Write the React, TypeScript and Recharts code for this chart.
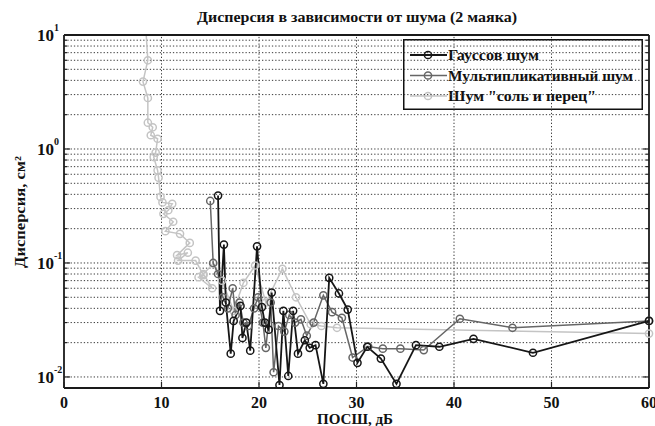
import React from 'react';
import { LineChart, Line, XAxis, YAxis, ReferenceLine } from 'recharts';

// ПОСШ, дБ / дисперсия, см^2
const gaussX = [15.8, 16.0, 16.4, 16.6, 17.1, 17.4, 18.1, 18.3, 18.7, 19.1, 19.8, 20.3, 20.6, 21.0, 21.3, 22.1, 22.5, 23.0, 23.5, 24.0, 24.7, 25.2, 25.8, 26.6, 27.2, 28.2, 29.1, 30.1, 31.1, 32.5, 34.1, 36.1, 38.5, 42.0, 48.1, 60];
const gaussY = [0.39, 0.038, 0.145, 0.045, 0.016, 0.031, 0.042, 0.022, 0.03, 0.017, 0.14, 0.041, 0.03, 0.026, 0.055, 0.0085, 0.038, 0.0102, 0.038, 0.016, 0.021, 0.018, 0.019, 0.0087, 0.074, 0.054, 0.039, 0.0133, 0.0184, 0.0145, 0.0087, 0.019, 0.0184, 0.0216, 0.0163, 0.031];

const multX = [15.0, 15.3, 15.8, 16.3, 16.8, 17.3, 17.6, 18.0, 18.4, 18.9, 19.5, 19.9, 20.4, 20.7, 21.2, 21.5, 22.0, 22.6, 23.1, 23.7, 24.3, 24.9, 25.6, 26.6, 27.5, 28.5, 29.6, 31.2, 32.7, 34.5, 36.9, 40.6, 46.0, 60];
const multY = [0.35, 0.1, 0.08, 0.05, 0.04, 0.06, 0.035, 0.045, 0.03, 0.028, 0.04, 0.05, 0.03, 0.018, 0.045, 0.011, 0.028, 0.025, 0.035, 0.03, 0.032, 0.023, 0.03, 0.052, 0.037, 0.033, 0.0148, 0.0185, 0.0177, 0.0177, 0.0172, 0.0324, 0.027, 0.031];

const saltX = [8.4, 8.6, 8.1, 8.6, 8.6, 9.1, 8.9, 9.6, 9.4, 9.2, 9.6, 9.7, 9.9, 10.1, 11.1, 10.7, 10.2, 11.2, 10.4, 11.9, 12.9, 11.6, 12.7, 11.7, 13.5, 14.3, 13.8, 15.2, 14.3, 15.3, 16.2, 17.4, 18.4, 19.6, 20.7, 22.4, 23.8, 25.3, 26.4, 28.0, 60];
const saltY = [11, 6.0, 3.9, 2.8, 1.7, 1.55, 1.32, 1.23, 0.93, 0.85, 0.65, 0.56, 0.38, 0.34, 0.33, 0.29, 0.27, 0.23, 0.19, 0.18, 0.15, 0.117, 0.123, 0.105, 0.105, 0.078, 0.075, 0.06, 0.08, 0.099, 0.07, 0.038, 0.067, 0.095, 0.045, 0.089, 0.05, 0.029, 0.028, 0.027, 0.024];

const xTicks = [0, 10, 20, 30, 40, 50, 60];
const xGrid = [10, 20, 30, 40, 50];
const mantissas = [1, 2, 3, 4, 5, 6, 7, 8, 9];
const yMinor = [0.01, 0.1, 1].flatMap(d => mantissas.map(m => +(m * d).toPrecision(3)));
const yTicks = [...yMinor, 10];

const toData = (xs: number[], ys: number[]) => xs.map((x, i) => ({ x, y: ys[i] }));
const gaussData = toData(gaussX, gaussY);
const multData = toData(multX, multY);
const saltData = toData(saltX, saltY);

const series = [
  { name: 'Гауссов шум', color: '#161616', width: 1.8, len: 91, data: gaussData },
  { name: 'Мультипликативный шум', color: '#666666', width: 1.5, len: 185, data: multData },
  { name: 'Шум "соль и перец"', color: '#c4c4c4', width: 1.5, len: 148, data: saltData },
];

const FONT = '"Liberation Serif", "DejaVu Serif", serif';
const GRID = '#3a3a3a';
const isDecade = (v: number) => Math.abs(Math.log10(v) - Math.round(Math.log10(v))) < 1e-6;

const LeftTick = (props: any) => {
  const { x, y, payload } = props;
  const v = payload.value;
  const major = isDecade(v);
  return (
    <g>
      <line x1={x} x2={x + (major ? 6 : 3)} y1={y} y2={y} stroke="#222" strokeWidth={1.2} />
      {major && (
        <text x={x - 10} y={y + 6} textAnchor="end" fontFamily={FONT} fontWeight="bold" fontSize={17} fill="#111">
          10
        </text>
      )}
      {major && (
        <text x={x - 10} y={y - 4} textAnchor="start" fontFamily={FONT} fontWeight="bold" fontSize={10} fill="#111">
          {Math.round(Math.log10(v))}
        </text>
      )}
    </g>
  );
};

const RightTick = (props: any) => {
  const { x, y, payload } = props;
  const major = isDecade(payload.value);
  return <line x1={x} x2={x - (major ? 6 : 3)} y1={y} y2={y} stroke="#222" strokeWidth={1.2} />;
};

const BottomTick = (props: any) => {
  const { x, y, payload } = props;
  return (
    <g>
      <line x1={x} x2={x} y1={y} y2={y - 6} stroke="#222" strokeWidth={1.2} />
      <text x={x} y={y + 20} textAnchor="middle" fontFamily={FONT} fontWeight="bold" fontSize={16} fill="#111">
        {payload.value}
      </text>
    </g>
  );
};

const TopTick = (props: any) => {
  const { x, y } = props;
  return <line x1={x} x2={x} y1={y} y2={y + 6} stroke="#222" strokeWidth={1.2} />;
};

const LegendBox = () => (
  <g transform="translate(403 39)">
    <rect x={0.75} y={0.75} width={238.5} height={69.5} fill="#fff" stroke="#111" strokeWidth={1.5} />
    {series.map((s, i) => {
      const cy = 16 + i * 20.5;
      return (
        <g key={s.name}>
          <line x1={7} x2={44} y1={cy} y2={cy} stroke={s.color} strokeWidth={s.width} />
          <circle cx={25} cy={cy} r={3.6} fill="none" stroke={s.color} strokeWidth={1.5} />
          <text x={45} y={cy + 5} fontFamily={FONT} fontWeight="bold" fontSize={14.5} fill="#111"
            textLength={s.len} lengthAdjust="spacingAndGlyphs">
            {s.name}
          </text>
        </g>
      );
    })}
  </g>
);

export default function App() {
  return (
    <div style={{ position: 'absolute', left: 0, top: 0, width: 655, height: 426, background: '#fff' }}>
      <LineChart width={655} height={426} margin={{ top: 34, right: 5, bottom: 8, left: 4 }}>
        <text x={357} y={22} textAnchor="middle" fontFamily={FONT} fontWeight="bold" fontSize={15} fill="#111"
          textLength={320} lengthAdjust="spacingAndGlyphs">
          Дисперсия в зависимости от шума (2 маяка)
        </text>
        <text x={355} y={424} textAnchor="middle" fontFamily={FONT} fontWeight="bold" fontSize={14} fill="#111"
          textLength={76} lengthAdjust="spacingAndGlyphs">
          ПОСШ, дБ
        </text>
        <text x={25} y={212} textAnchor="middle" fontFamily={FONT} fontWeight="bold" fontSize={15} fill="#111"
          transform="rotate(-90 25 212)" textLength={112} lengthAdjust="spacingAndGlyphs">
          Дисперсия, см²
        </text>
        <XAxis dataKey="x" type="number" domain={[0, 60]} ticks={xTicks} interval={0} height={30}
          tickSize={0} tickMargin={0} tick={<BottomTick />} axisLine={{ stroke: '#1a1a1a', strokeWidth: 1.8 }} tickLine={false} />
        <XAxis xAxisId="top" orientation="top" dataKey="x" type="number" domain={[0, 60]} ticks={xTicks} interval={0}
          height={1} tickSize={0} tickMargin={0} tick={<TopTick />} axisLine={{ stroke: '#1a1a1a', strokeWidth: 1.8 }} tickLine={false} />
        <YAxis type="number" scale="log" domain={[0.008, 10]} allowDataOverflow ticks={yTicks} interval={0} width={60}
          tickSize={0} tickMargin={0} tick={<LeftTick />} axisLine={{ stroke: '#1a1a1a', strokeWidth: 1.8 }} tickLine={false} />
        <YAxis yAxisId="right" orientation="right" type="number" scale="log" domain={[0.008, 10]} allowDataOverflow
          ticks={yTicks} interval={0} width={1} tickSize={0} tickMargin={0} tick={<RightTick />}
          axisLine={{ stroke: '#1a1a1a', strokeWidth: 1.8 }} tickLine={false} />
        {yMinor.map(v => (
          <ReferenceLine key={'h' + v} y={v} stroke={GRID} strokeWidth={1} strokeDasharray="1.3 2" />
        ))}
        {xGrid.map(v => (
          <ReferenceLine key={'v' + v} x={v} stroke={GRID} strokeWidth={1} strokeDasharray="1.3 2" />
        ))}
        {[...series].reverse().map(s => (
          <Line key={s.name} data={s.data} dataKey="y" name={s.name} type="linear" stroke={s.color}
            strokeWidth={s.width} isAnimationActive={false}
            dot={{ r: 3.6, fill: 'none', stroke: s.color, strokeWidth: 1.5 }} activeDot={false} />
        ))}
        <LegendBox />
      </LineChart>
    </div>
  );
}
